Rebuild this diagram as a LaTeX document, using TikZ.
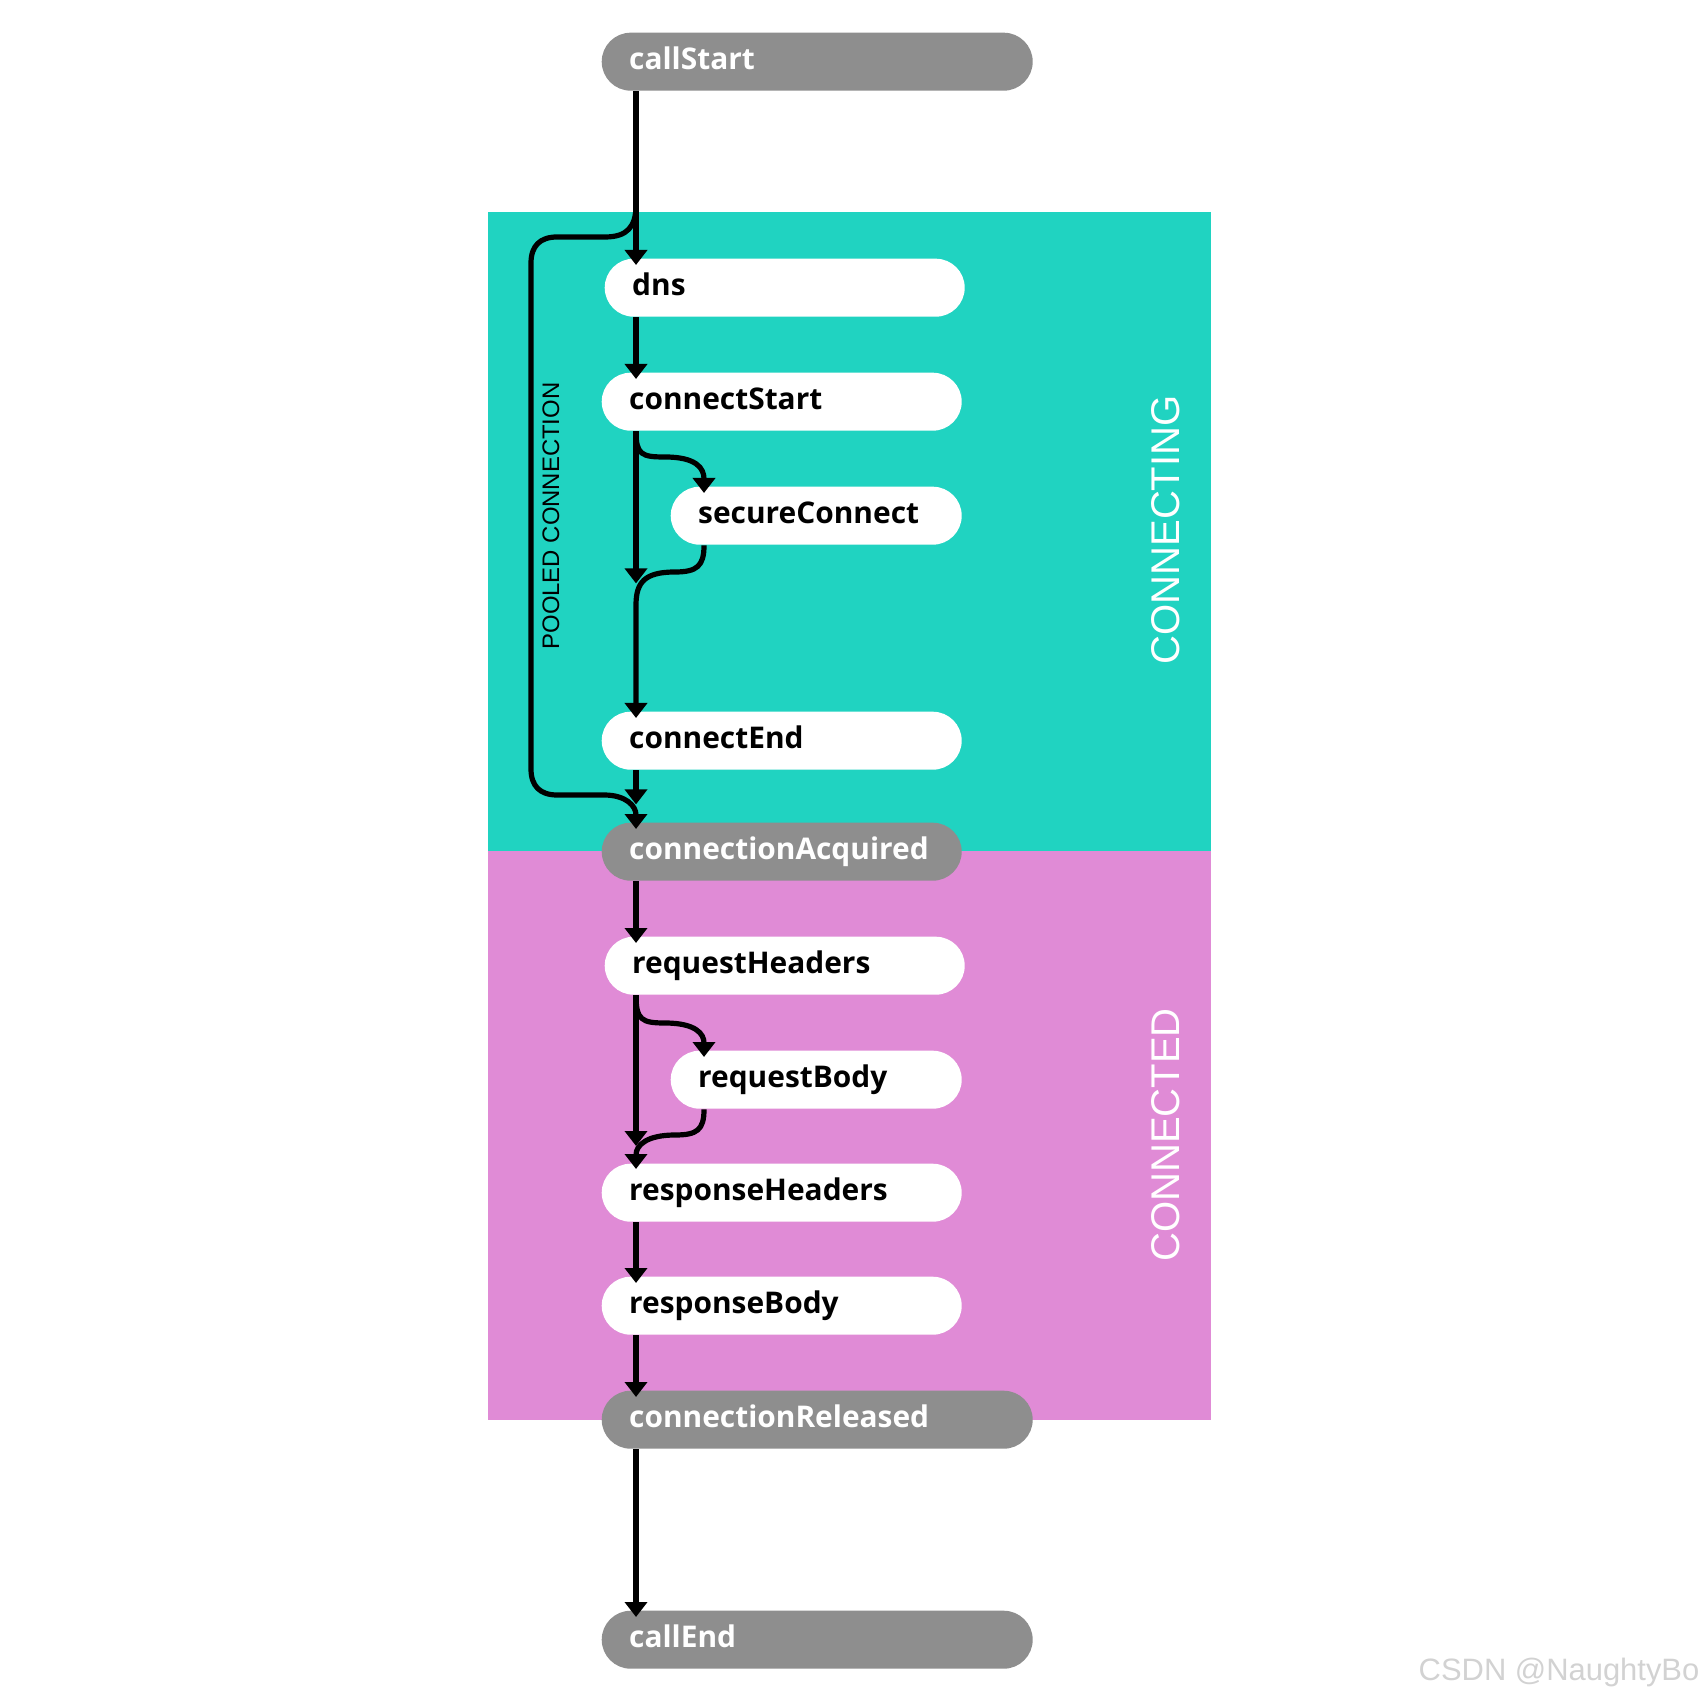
\documentclass[tikz,border=0pt]{standalone}
\usepackage{fontspec}
\setmainfont{Open Sans}
\newfontfamily\arialf{Liberation Sans}
\usetikzlibrary{arrows.meta,calc}
\definecolor{tealbg}{HTML}{20D3C1}
\definecolor{pinkbg}{HTML}{E08BD6}
\definecolor{graybox}{HTML}{8E8E8E}
\definecolor{wmark}{HTML}{D2D2D2}
\begin{document}
\begin{tikzpicture}[x=0.1mm,y=-0.1mm,
 evbox/.style={rectangle, rounded corners=2.9mm, minimum height=5.8mm, inner xsep=2.75mm, inner ysep=0pt, anchor=north west, align=left, text height=2.2mm, text depth=0.6mm, font=\fontsize{8.5pt}{10pt}\selectfont\bfseries},
 wbox/.style={evbox, fill=white, text=black},
 gbox/.style={evbox, fill=graybox, text=white},
 wide/.style={minimum width=43.1mm, text width=37.6mm},
 mid/.style={minimum width=36.0mm, text width=30.5mm},
 narrow/.style={minimum width=29.1mm, text width=23.6mm},
 flow/.style={line width=0.52mm, -{Triangle[width=2.2mm,length=1.5mm]}},
 phase/.style={rotate=90, text=white, font=\arialf\fontsize{11.4pt}{12pt}\selectfont},
]
\useasboundingbox (0,0) rectangle (1700,1700);
% phase backgrounds
\fill[tealbg] (488,212) rectangle (1211,851);
\fill[pinkbg] (488,851) rectangle (1211,1420);
\node[phase] (lblConnecting) at (1166,530) {CONNECTING};
\node[phase] (lblConnected) at (1166,1135) {CONNECTED};
\node[rotate=90, text=black, font=\arialf\fontsize{6.8pt}{8pt}\selectfont] (lblPooled) at (551,516) {POOLED CONNECTION};
% main x positions
\coordinate (mx) at (636,0);
\coordinate (bx) at (704,0);
% events
\node[gbox, wide] (callStart) at (601,32) {callStart};
\node[wbox, mid] (dns) at (604,258) {dns};
\node[wbox, mid] (connectStart) at (601,372) {connectStart};
\node[wbox, narrow] (secureConnect) at (670,486) {secureConnect};
\node[wbox, mid] (connectEnd) at (601,711) {connectEnd};
\node[gbox, mid] (connectionAcquired) at (601,822) {connectionAcquired};
\node[wbox, mid] (requestHeaders) at (604,936) {requestHeaders};
\node[wbox, narrow] (requestBody) at (670,1050) {requestBody};
\node[wbox, mid] (responseHeaders) at (601,1163) {responseHeaders};
\node[wbox, mid] (responseBody) at (601,1276) {responseBody};
\node[gbox, wide] (connectionReleased) at (601,1390) {connectionReleased};
\node[gbox, wide] (callEnd) at (601,1610) {callEnd};
% connectors
\draw[flow] (callStart.south -| mx) -- ($(dns.north -| mx)+(0,7)$);
\draw[flow] (callStart.south -| mx) -- (636,205) .. controls (636,227) and (627,237) .. (605,237) -- (557,237) .. controls (540,237) and (531,246) .. (531,263) -- (531,769) .. controls (531,786) and (540,795) .. (557,795) -- (604,795) .. controls (626,795) and (636,806) .. ($(connectionAcquired.north -| mx)+(0,7)$);
\draw[flow] (dns.south -| mx) -- ($(connectStart.north -| mx)+(0,7)$);
\draw[flow] (connectStart.south -| mx) -- ($(connectStart.south -| mx)+(0,152)$);
\draw[flow] (connectStart.south -| mx) .. controls (636,455) and (642,457) .. (665,457) .. controls (696,457) and (704,468) .. ($(secureConnect.north -| bx)+(0,7)$);
\draw[flow] (secureConnect.south -| bx) .. controls (704,566) and (697,572) .. (675,572) .. controls (645,572) and (636,582) .. (636,605) -- ($(connectEnd.north -| mx)+(0,7)$);
\draw[flow] (connectEnd.south -| mx) -- ($(connectEnd.south -| mx)+(0,34)$);
\draw[flow] (connectionAcquired.south -| mx) -- ($(requestHeaders.north -| mx)+(0,7)$);
\draw[flow] (requestHeaders.south -| mx) -- ($(responseHeaders.north -| mx)+(0,-17)$);
\draw[flow] (requestHeaders.south -| mx) .. controls (636,1020) and (642,1023) .. (665,1023) .. controls (696,1023) and (704,1034) .. ($(requestBody.north -| bx)+(0,7)$);
\draw[flow] (requestBody.south -| bx) .. controls (704,1130) and (697,1135) .. (675,1135) .. controls (647,1135) and (636,1145) .. ($(responseHeaders.north -| mx)+(0,6)$);
\draw[flow] (responseHeaders.south -| mx) -- ($(responseBody.north -| mx)+(0,7)$);
\draw[flow] (responseBody.south -| mx) -- ($(connectionReleased.north -| mx)+(0,7)$);
\draw[flow] (connectionReleased.south -| mx) -- ($(callEnd.north -| mx)+(0,7)$);
% watermark
\node[anchor=base west, inner sep=0pt, text=wmark, font=\arialf\fontsize{8.8pt}{10pt}\selectfont] (wm) at (1418,1680) {CSDN @NaughtyBo};
\end{tikzpicture}
\end{document}
